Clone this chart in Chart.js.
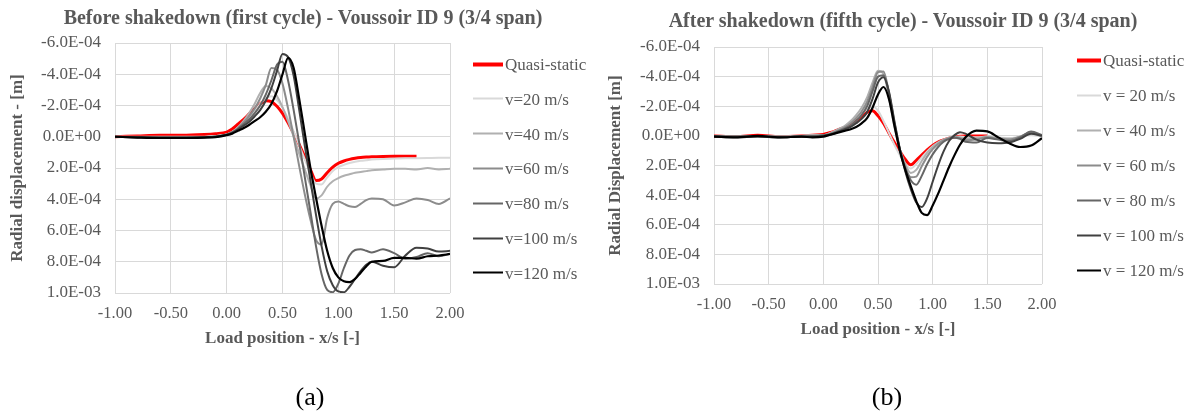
<!DOCTYPE html>
<html>
<head>
<meta charset="utf-8">
<script src="https://cdn.jsdelivr.net/npm/chart.js@4.4.1/dist/chart.umd.min.js"></script>
<style>
  body { margin: 0; background: #fff; }
  #page { position: relative; width: 1192px; height: 412px; overflow: hidden; font-family: 'Liberation Serif', 'Times New Roman', serif; }
  canvas { position: absolute; top: 0; }
  #graficoA { left: 0; }
  #graficoB { left: 600px; }
  .titulo { position: absolute; font-weight: bold; font-size: 20px; color: #595959; white-space: nowrap; line-height: 1; transform: translate(-50%, -50%); }
  .legenda { position: absolute; font-size: 17px; color: #595959; white-space: nowrap; line-height: 1; display: flex; align-items: center; transform: translateY(-50%); }
  .legenda span { display: inline-block; margin-right: 2px; }
  .rotulo { position: absolute; font-size: 26px; color: #000; line-height: 1; transform: translate(-50%, -50%); }
</style>
</head>
<body>
<div id="page">
  <canvas id="graficoA" width="600" height="412"></canvas>
  <canvas id="graficoB" width="592" height="412"></canvas>
  <div class="titulo" style="left:303px; top:17px;">Before shakedown (first cycle) - Voussoir ID 9 (3/4 span)</div>
  <div class="titulo" style="left:903px; top:20px;">After shakedown (fifth cycle) - Voussoir ID 9 (3/4 span)</div>
  <div class="rotulo" style="left:310px; top:397px;">(a)</div>
  <div class="rotulo" style="left:887px; top:397px;">(b)</div>
</div>
<script>
// Load position x/s (shared by every series)
const posicoes = [-1, -0.8, -0.6, -0.4, -0.2, -0.1, 0, 0.05, 0.1, 0.15, 0.2, 0.25, 0.3, 0.35, 0.4, 0.45, 0.5, 0.55, 0.6, 0.65, 0.7, 0.75, 0.8, 0.85, 0.9, 0.95, 1, 1.05, 1.1, 1.15, 1.2, 1.25, 1.3, 1.4, 1.5, 1.6, 1.7, 1.8, 1.9, 2];

// Radial displacement, in units of 1E-04 m
// (a) before shakedown - first cycle
const quasiA = [0, -0.05, -0.1, -0.1, -0.15, -0.2, -0.3, -0.5, -0.8, -1.1, -1.45, -1.8, -2.1, -2.3, -2.25, -1.95, -1.5, -0.9, -0.2, 0.5, 1.3, 2.1, 2.8, 2.7, 2.3, 1.95, 1.7, 1.55, 1.45, 1.38, 1.33, 1.3, 1.28, 1.26, 1.25, 1.25, 1.25, null, null, null];
const v20A = [0, 0, 0, 0, 0, -0.05, -0.15, -0.3, -0.55, -0.85, -1.2, -1.65, -2.1, -2.45, -2.6, -2.35, -1.85, -1.15, -0.35, 0.55, 1.45, 2.3, 3.0, 3.05, 2.6, 2.2, 1.95, 1.8, 1.68, 1.6, 1.54, 1.5, 1.46, 1.42, 1.4, 1.38, 1.37, 1.36, 1.35, 1.35];
const v40A = [0, 0.02, 0.03, 0.03, 0.02, -0.05, -0.15, -0.3, -0.6, -1.0, -1.5, -2.1, -2.8, -3.25, -3.1, -2.6, -1.9, -1.0, 0.0, 1.1, 2.1, 3.1, 3.95, 3.75, 3.2, 2.85, 2.65, 2.5, 2.4, 2.3, 2.25, 2.2, 2.15, 2.1, 2.05, 2.05, 2.1, 2.0, 2.1, 2.05];
const v60A = [0, 0.03, 0.05, 0.05, 0.03, 0, -0.15, -0.3, -0.55, -0.9, -1.3, -1.8, -2.45, -3.3, -4.4, -4.3, -3.4, -1.8, 0.0, 1.9, 3.7, 5.3, 6.6, 6.9, 5.2, 4.3, 4.15, 4.3, 4.45, 4.5, 4.3, 4.05, 3.95, 4.0, 4.4, 4.2, 3.95, 4.05, 4.3, 3.95];
const v80A = [0, 0.03, 0.05, 0.05, 0.03, 0, -0.15, -0.28, -0.5, -0.8, -1.1, -1.5, -2.0, -2.7, -3.6, -4.6, -4.8, -3.6, -1.7, 0.4, 2.6, 4.8, 7.0, 8.8, 9.8, 9.95, 9.4, 8.4, 7.6, 7.25, 7.2, 7.3, 7.4, 7.2, 7.45, 7.8, 7.7, 7.45, 7.65, 7.5];
const v100A = [0, 0.03, 0.05, 0.05, 0.03, 0, -0.12, -0.25, -0.45, -0.7, -0.95, -1.3, -1.7, -2.3, -3.1, -4.2, -5.3, -5.1, -3.9, -1.7, 0.6, 2.8, 5.0, 7.0, 8.6, 9.5, 9.9, 9.95, 9.6, 9.1, 8.6, 8.2, 8.0, 8.25, 8.35, 7.6, 7.1, 7.15, 7.35, 7.3];
const v120A = [0, 0.05, 0.08, 0.08, 0.05, 0.02, -0.1, -0.2, -0.38, -0.55, -0.75, -1.0, -1.25, -1.6, -2.1, -2.9, -4.0, -5.05, -4.4, -2.4, -0.2, 2.0, 3.9, 5.7, 7.3, 8.4, 9.0, 9.25, 9.3, 9.1, 8.7, 8.3, 8.0, 7.95, 7.75, 7.75, 7.8, 7.65, 7.6, 7.5];

// (b) after shakedown - fifth cycle
const quasiB = [0, 0.05, -0.05, 0.05, 0, -0.05, -0.1, -0.2, -0.3, -0.45, -0.6, -0.8, -1.0, -1.25, -1.6, -1.7, -1.35, -0.85, -0.2, 0.45, 1.05, 1.6, 1.95, 1.65, 1.3, 0.95, 0.65, 0.42, 0.27, 0.15, 0.08, 0.03, 0.0, 0.0, 0.0, null, null, null, null, null];
const v20B = [0, 0.05, 0, 0.05, 0, -0.05, -0.05, -0.15, -0.3, -0.45, -0.65, -0.9, -1.2, -1.5, -1.8, -2.0, -1.7, -1.0, -0.2, 0.6, 1.3, 1.9, 2.2, 1.9, 1.45, 1.05, 0.7, 0.45, 0.28, 0.15, 0.08, 0.05, 0.08, 0.1, 0.05, 0.1, 0.15, 0.05, -0.05, 0.05];
const v40B = [0, 0.05, 0, 0.05, 0, -0.05, -0.05, -0.15, -0.3, -0.5, -0.7, -1.0, -1.4, -1.9, -2.6, -3.6, -4.4, -4.2, -2.6, -0.6, 0.9, 1.9, 2.5, 2.3, 1.7, 1.15, 0.75, 0.45, 0.25, 0.12, 0.05, 0.1, 0.2, 0.15, 0.05, 0.15, 0.2, 0.05, -0.2, 0.05];
const v60B = [0, 0.05, 0.05, 0.05, 0.05, 0, -0.05, -0.12, -0.25, -0.4, -0.6, -0.85, -1.2, -1.65, -2.3, -3.3, -4.3, -4.35, -2.9, -0.8, 0.9, 2.1, 2.8, 2.75, 2.05, 1.4, 0.9, 0.55, 0.3, 0.15, 0.1, 0.15, 0.3, 0.25, 0.1, 0.2, 0.25, 0.05, -0.25, 0.0];
const v80B = [0, 0.05, 0.05, 0.1, 0.05, 0.05, -0.05, -0.1, -0.2, -0.35, -0.5, -0.7, -1.0, -1.4, -2.0, -3.0, -4.0, -4.1, -2.9, -0.9, 0.9, 2.2, 3.0, 3.3, 2.7, 1.9, 1.25, 0.75, 0.4, 0.2, 0.12, 0.2, 0.4, 0.45, 0.15, 0.25, 0.35, 0.1, -0.3, -0.05];
const v100B = [0.05, 0.1, 0.05, 0.1, 0.05, 0.05, 0.0, -0.05, -0.15, -0.3, -0.45, -0.6, -0.85, -1.15, -1.6, -2.5, -3.6, -3.95, -3.0, -1.0, 0.9, 2.4, 3.6, 4.5, 4.8, 4.2, 3.1, 2.0, 1.05, 0.35, -0.05, -0.25, -0.15, 0.25, 0.45, 0.5, 0.45, 0.2, -0.15, 0.0];
const v120B = [0.05, 0.1, 0.0, 0.1, 0.05, 0.1, 0.05, -0.05, -0.15, -0.25, -0.35, -0.45, -0.6, -0.85, -1.2, -1.9, -2.8, -3.3, -2.5, -0.7, 1.0, 2.3, 3.4, 4.4, 5.2, 5.35, 4.7, 3.9, 3.0, 2.1, 1.3, 0.6, 0.1, -0.35, -0.3, 0.1, 0.5, 0.75, 0.65, 0.15];

const nomesA = ['Quasi-static', 'v=20 m/s', 'v=40 m/s', 'v=60 m/s', 'v=80 m/s', 'v=100 m/s', 'v=120 m/s'];
const nomesB = ['Quasi-static', 'v = 20 m/s', 'v = 40 m/s', 'v = 60 m/s', 'v = 80 m/s', 'v = 100 m/s', 'v = 120 m/s'];

// Axis ticks (y in units of 1E-04 m, drawn reversed)
const yTickValues = [-6, -4, -2, 0, 2, 4, 6, 8, 10];
const yTickLabels = ['-6.0E-04', '-4.0E-04', '-2.0E-04', '0.0E+00', '2.0E-04', '4.0E-04', '6.0E-04', '8.0E-04', '1.0E-03'];
const xTickValues = [-1, -0.5, 0, 0.5, 1, 1.5, 2];
const xTickLabels = ['-1.00', '-0.50', '0.00', '0.50', '1.00', '1.50', '2.00'];

// Styles
const cores = ['#ff0000', '#d9d9d9', '#b0b0b0', '#8c8c8c', '#666666', '#404040', '#000000'];
const espessuras = [3, 2, 2, 2, 2, 2, 2.2];
const fonte = "'Liberation Serif', 'Times New Roman', serif";
const cinza = '#595959';

function criaGrafico(id, series, cfg) {
    const datasets = series.map((valores, i) => ({
        data: posicoes.map((x, j) => ({ x: x, y: valores[j] })),
        borderColor: cores[i],
        borderWidth: espessuras[i],
        pointRadius: 0,
        fill: false,
        spanGaps: false,
        cubicInterpolationMode: 'monotone',
        order: series.length - i
    }));

    new Chart(document.getElementById(id), {
        type: 'line',
        data: { datasets: datasets },
        options: {
            responsive: false,
            animation: false,
            devicePixelRatio: 1,
            layout: { padding: cfg.padding },
            plugins: { legend: { display: false }, tooltip: { enabled: false } },
            scales: {
                x: {
                    type: 'linear',
                    min: xTickValues[0],
                    max: xTickValues[xTickValues.length - 1],
                    border: { display: false },
                    grid: { color: '#d9d9d9', drawTicks: false },
                    ticks: {
                        stepSize: 0.5,
                        padding: 11,
                        maxRotation: 0,
                        autoSkip: false,
                        color: cinza,
                        font: { family: fonte, size: 16.5 },
                        callback: v => xTickLabels[xTickValues.indexOf(v)]
                    },
                    title: {
                        display: true,
                        text: 'Load position - x/s [-]',
                        color: cinza,
                        padding: { top: 0, bottom: 0 },
                        font: { family: fonte, size: 17, weight: 'bold' }
                    },
                    afterFit: scale => { scale.height = cfg.xHeight; }
                },
                y: {
                    reverse: true,
                    min: yTickValues[0],
                    max: yTickValues[yTickValues.length - 1],
                    border: { display: false },
                    grid: { color: '#d9d9d9', drawTicks: false },
                    ticks: {
                        stepSize: 2,
                        padding: 14,
                        color: cinza,
                        font: { family: fonte, size: 17 },
                        callback: v => yTickLabels[yTickValues.indexOf(v)]
                    },
                    title: {
                        display: true,
                        text: cfg.yTitulo,
                        color: cinza,
                        padding: { top: cfg.yTituloPad, bottom: 0 },
                        font: { family: fonte, size: 17, weight: 'bold' }
                    },
                    afterFit: scale => { scale.width = cfg.yWidth; }
                }
            }
        }
    });
}

function criaLegenda(nomes, esquerda, largura, topo, passo) {
    const page = document.getElementById('page');
    nomes.forEach((nome, i) => {
        const item = document.createElement('div');
        item.className = 'legenda';
        item.style.left = esquerda + 'px';
        item.style.top = (topo + i * passo) + 'px';
        const linha = document.createElement('span');
        linha.style.width = largura + 'px';
        linha.style.height = (i === 0 ? 4 : 2) + 'px';
        linha.style.background = cores[i];
        item.appendChild(linha);
        item.appendChild(document.createTextNode(nome));
        page.appendChild(item);
    });
}

criaGrafico('graficoA', [quasiA, v20A, v40A, v60A, v80A, v100A, v120A], {
    padding: { left: 0, right: 150, top: 43, bottom: 63 },
    xHeight: 56,
    yWidth: 115,
    yTitulo: 'Radial displacement - [m]',
    yTituloPad: 7
});
criaGrafico('graficoB', [quasiB, v20B, v40B, v60B, v80B, v100B, v120B], {
    padding: { left: 0, right: 150, top: 47, bottom: 72 },
    xHeight: 56,
    yWidth: 114,
    yTitulo: 'Radial Displacement [m]',
    yTituloPad: 5
});

criaLegenda(nomesA, 473, 30, 64, 34.8);
criaLegenda(nomesB, 1077, 24, 60, 35);
</script>
</body>
</html>
